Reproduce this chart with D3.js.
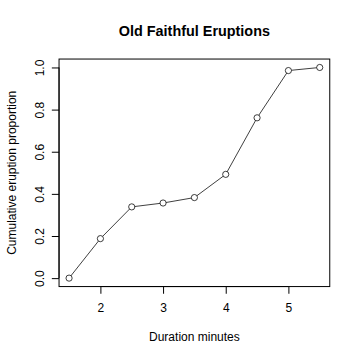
<!DOCTYPE html>
<html><head><meta charset="utf-8">
<script src="https://cdn.jsdelivr.net/npm/d3@7"></script>
<style>body{margin:0;background:#fff}svg{display:block}text{font-family:"Liberation Sans",Arial,sans-serif;fill:#000}</style>
</head><body>
<script>
const breaks = [1.5, 2, 2.5, 3, 3.5, 4, 4.5, 5, 5.5];
const cumProportion = [0, 0.1875, 0.3382, 0.3566, 0.3824, 0.4926, 0.7610, 0.9853, 1.0];
const xTicks = [2, 3, 4, 5];
const yTicks = [0, 0.2, 0.4, 0.6, 0.8, 1.0];
const title = "Old Faithful Eruptions";
const xLabel = "Duration minutes";
const yLabel = "Cumulative eruption proportion";

const W = 360, H = 360;
const m = {l: 59.04, r: 30.24, t: 59.04, b: 73.44};
const svg = d3.select("body").append("svg").attr("width", W).attr("height", H);
const x = d3.scaleLinear().domain([1.34, 5.66]).range([m.l, W - m.r]);
const y = d3.scaleLinear().domain([-0.04, 1.04]).range([H - m.b, m.t]);

svg.append("rect").attr("x", m.l).attr("y", m.t).attr("width", W - m.l - m.r).attr("height", H - m.t - m.b)
  .attr("fill", "none").attr("stroke", "#000").attr("stroke-width", 1);

const data = breaks.map((b, i) => ({x: b, y: cumProportion[i]}));
svg.append("path").datum(data)
  .attr("d", d3.line().x(d => x(d.x)).y(d => y(d.y)))
  .attr("fill", "none").attr("stroke", "#000").attr("stroke-width", 0.75);
svg.selectAll("circle.pt").data(data).join("circle").attr("class", "pt")
  .attr("cx", d => x(d.x)).attr("cy", d => y(d.y)).attr("r", 3.1)
  .attr("fill", "#fff").attr("stroke", "#000").attr("stroke-width", 0.75);

const xAxis = d3.axisBottom(x).tickValues(xTicks).tickSize(7.2).tickPadding(10).tickFormat(d3.format("d"));
const gx = svg.append("g").attr("transform", `translate(0,${H - m.b})`).call(xAxis);
gx.select(".domain").attr("d", `M${x(2)},0H${x(5)}`);
gx.selectAll("text").attr("font-size", 12).style("font-family", '"Liberation Sans",Arial,sans-serif');

const yAxis = d3.axisLeft(y).tickValues(yTicks).tickSize(7.2).tickPadding(0).tickFormat(d3.format(".1f"));
const gy = svg.append("g").attr("transform", `translate(${m.l},0)`).call(yAxis);
gy.select(".domain").attr("d", `M0,${y(0)}V${y(1)}`);
gy.selectAll(".tick text").attr("font-size", 12).style("font-family", '"Liberation Sans",Arial,sans-serif')
  .attr("x", 0).attr("dy", null).attr("text-anchor", "middle").attr("dominant-baseline", "auto")
  .attr("transform", "translate(-15.4,0) rotate(-90)").attr("y", 0);

svg.append("text").attr("x", (m.l + W - m.r) / 2).attr("y", 36).attr("text-anchor", "middle")
  .attr("font-size", 14.4).attr("font-weight", "bold").text(title);
svg.append("text").attr("x", (m.l + W - m.r) / 2).attr("y", H - m.b + 3 * 14.4 + 11).attr("text-anchor", "middle")
  .attr("font-size", 12).text(xLabel);
svg.append("text").attr("transform", `translate(${m.l - 3 * 14.4},${(m.t + H - m.b) / 2}) rotate(-90)`)
  .attr("text-anchor", "middle").attr("font-size", 12).text(yLabel);
</script>
</body></html>
